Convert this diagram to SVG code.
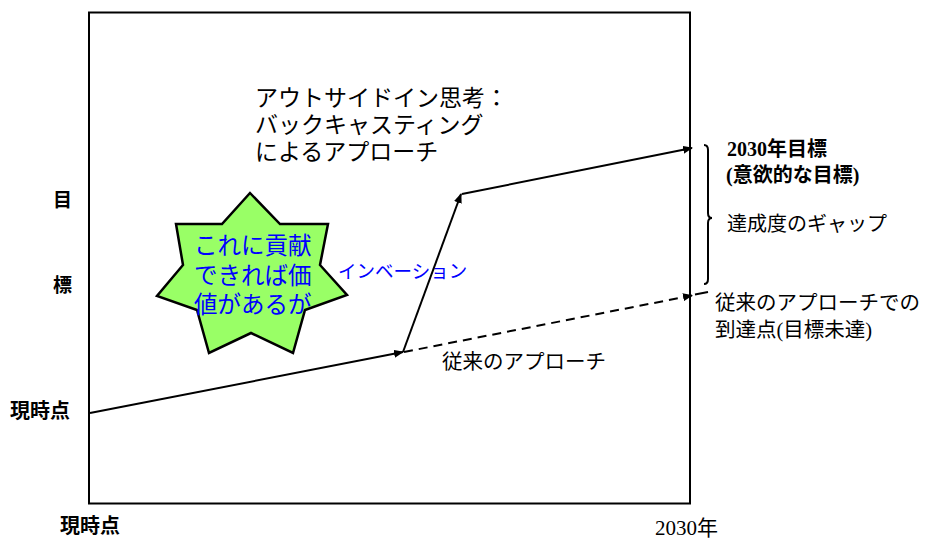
<svg xmlns="http://www.w3.org/2000/svg" width="935" height="539" viewBox="0 0 935 539">
<defs>
<style>
.jp{font-family:"Noto Sans CJK JP","Liberation Serif",serif;fill:#000}
.serif{font-family:"Liberation Serif","Noto Sans CJK JP",serif;fill:#000}
.b{font-weight:bold}
.blue{font-family:"Noto Sans CJK JP","Liberation Sans",sans-serif;fill:#0000ff}
.ln{stroke:#000;stroke-width:2;fill:none}
</style>
<marker id="arr" markerWidth="10" markerHeight="8" refX="9" refY="4" orient="auto" markerUnits="userSpaceOnUse">
<path d="M0,0 L10,4 L0,8 Z" fill="#000"/>
</marker>
</defs>
<rect width="935" height="539" fill="#fff"/>
<g id="frame">
<rect x="89" y="12.5" width="601" height="491" fill="none" stroke="#000" stroke-width="2"/>
</g>
<g id="title">
<text class="jp" font-size="23" x="255" y="106">アウトサイドイン思考：</text>
<text class="jp" font-size="23" x="255" y="133">バックキャスティング</text>
<text class="jp" font-size="23" x="255" y="160">によるアプローチ</text>
</g>
<g id="axis-labels">
<text class="jp b" font-size="19" x="53" y="207">目</text>
<text class="jp b" font-size="19" x="53" y="292">標</text>
<text class="jp b" font-size="20" x="10" y="418">現時点</text>
<text class="jp b" font-size="20" x="60" y="533">現時点</text>
<text class="serif" font-size="21" x="655" y="535">2030年</text>
</g>
<g id="star">
<polygon points="250,193 280,224 328,224 320,265 347,295 305,310 293,353 251,333 209,353 197,310 157,296 183,265 176,224 222,224" fill="#99ff66" stroke="#000" stroke-width="2.5" stroke-linejoin="miter"/>
<text class="blue" font-size="23.5" x="194" y="254">これに貢献</text>
<text class="blue" font-size="23.5" x="194" y="284">できれば価</text>
<text class="blue" font-size="23.5" x="194" y="313">値があるが</text>
</g>
<g id="innovation-label">
<text class="blue" font-size="18.5" x="338" y="278">インベーション</text>
</g>
<g id="connectors">
<line class="ln" x1="90" y1="413" x2="403" y2="352" marker-end="url(#arr)"/>
<line class="ln" x1="403" y1="352" x2="461" y2="194" marker-end="url(#arr)"/>
<line class="ln" x1="462" y1="194" x2="692" y2="148" marker-end="url(#arr)"/>
<line class="ln" x1="404" y1="352" x2="692" y2="295.5" stroke-dasharray="9,6" marker-end="url(#arr)"/>
<line class="ln" x1="695" y1="294.5" x2="708" y2="292" stroke-width="1.5"/>
<path class="ln" stroke-width="1.3" d="M704,145 Q708,145 708,150 L708,213 Q708,218 712,218 Q708,218 708,223 L708,279 Q708,284 704,284"/>
</g>
<g id="right-labels">
<text class="serif b" font-size="20" x="727" y="156">2030年目標</text>
<text class="serif b" font-size="20" x="726" y="182">(意欲的な目標)</text>
<text class="jp" font-size="20" x="727" y="231">達成度のギャップ</text>
<text class="jp" font-size="20.5" x="715" y="310">従来のアプローチでの</text>
<text class="serif" font-size="20.5" x="715" y="337">到達点(目標未達)</text>
<text class="jp" font-size="20.5" x="442" y="369">従来のアプローチ</text>
</g>
</svg>
